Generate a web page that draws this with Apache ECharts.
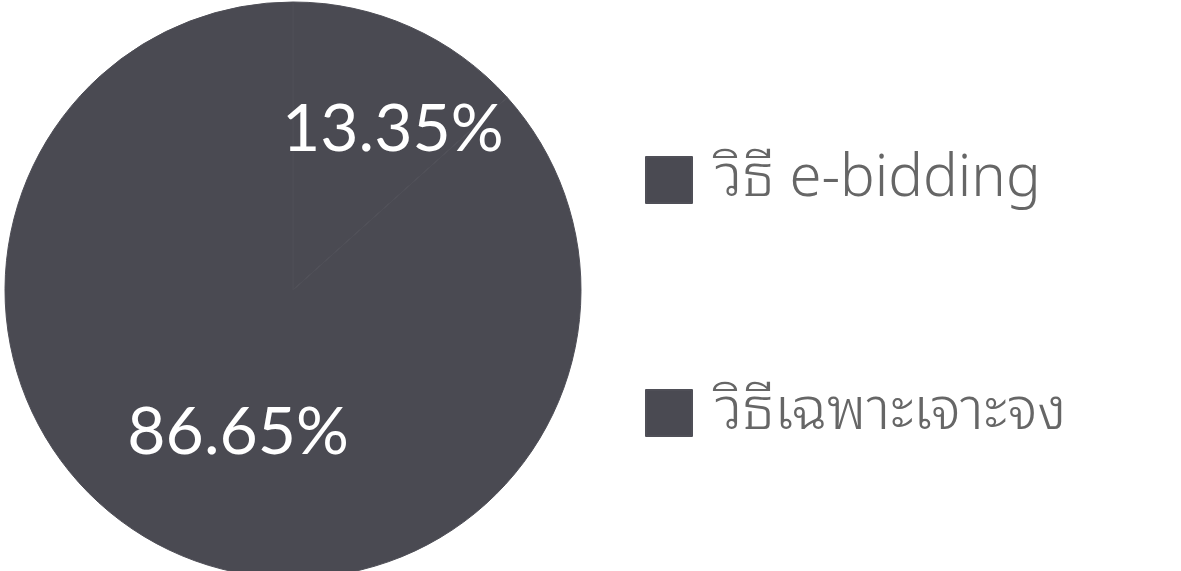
<!DOCTYPE html>
<html>
<head>
<meta charset="utf-8">
<script src="https://cdn.jsdelivr.net/npm/echarts@6/dist/echarts.min.js"></script>
<style>
html,body{margin:0;padding:0;background:#fff;}
#c{width:1181px;height:571px;}
</style>
</head>
<body>
<div id="c"></div>
<script>
const categories = ['วิธี e-bidding', 'วิธีเฉพาะเจาะจง'];
const values = [13.35, 86.65];
const labelText = ['13.35%', '86.65%'];

const chart = echarts.init(document.getElementById('c'));
const sliceColor = '#4a4a52';
const data = categories.map((name, i) => ({
  name: name,
  value: values[i],
  label: i === 0 ? { offset: [40, -26] } : { offset: [5, 8] }
}));

chart.setOption({
  backgroundColor: '#ffffff',
  animation: false,
  legend: {
    orient: 'vertical',
    left: 645,
    top: 150,
    padding: 0,
    itemWidth: 46,
    itemHeight: 46,
    itemGap: 173,
    icon: 'rect',
    data: categories,
    textStyle: {
      fontFamily: '"Noto Sans Thai Looped", "Noto Sans Thai", "Noto Sans", "DejaVu Sans", sans-serif',
      fontSize: 58,
      fontWeight: 300,
      lineHeight: 60,
      color: '#666666',
      padding: [0, 0, 0, 18]
    }
  },
  series: [{
    type: 'pie',
    center: [293, 290],
    radius: 288,
    startAngle: 90,
    clockwise: true,
    data: data,
    itemStyle: {
      color: sliceColor,
      borderColor: '#4f4f57',
      borderWidth: 1
    },
    label: {
      show: true,
      position: 'inside',
      formatter: (p) => labelText[p.dataIndex],
      color: '#ffffff',
      fontFamily: 'Lato, sans-serif',
      fontSize: 66
    },
    labelLine: { show: false },
    emphasis: { disabled: true }
  }]
});
</script>
</body>
</html>
